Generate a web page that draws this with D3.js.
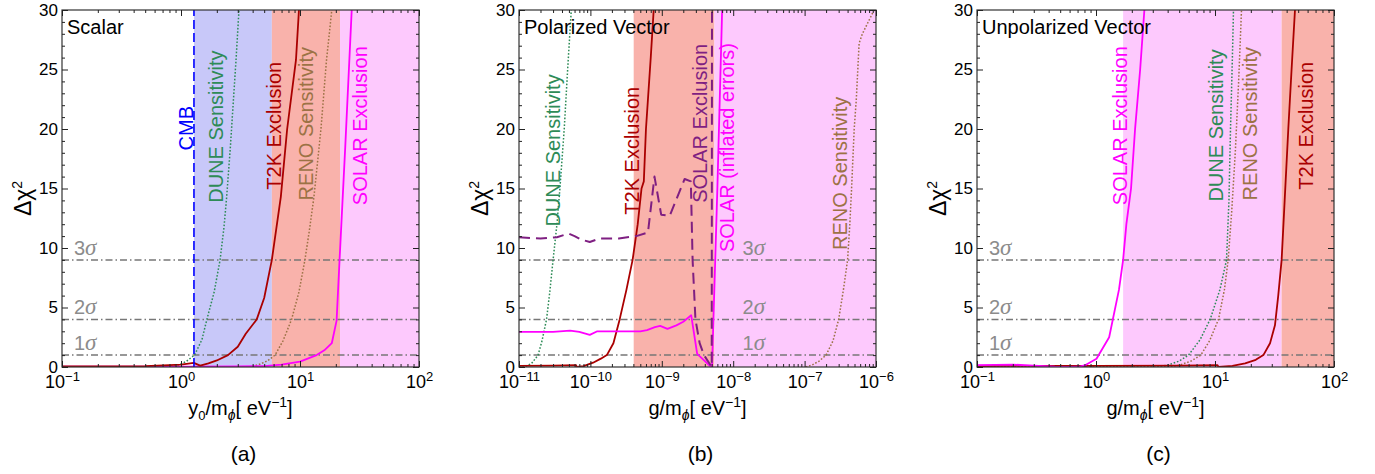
<!DOCTYPE html>
<html>
<head>
<meta charset="utf-8">
<script src="https://cdn.jsdelivr.net/npm/d3@7"></script>
<style>
  body { margin: 0; background: #fff; }
  text { font-family: "Liberation Sans", Arial, Helvetica, sans-serif; }
</style>
</head>
<body>
<svg id="chart"></svg>
<script>
// ---- shared axis data ----
const yTicks = [0, 5, 10, 15, 20, 25, 30];
const sigmaLevels = [1, 4, 9];
const sigmaDigits = ["1", "2", "3"];
const scalarDecades = [-1, 0, 1, 2];
const vectorDecades = [-11, -10, -9, -8, -7, -6];

// ---- (a) Scalar ----
const aCMB = 1.285;
const aBlueBand = [1.285, 5.8];
const aRedBand = [5.8, 21.7];
const aPinkBand = [21.7, 100];
const aDUNE = [[0.1,0],[0.7,0],[0.9,0.08],[1.1,0.45],[1.3,1.0],[1.5,2.3],[1.65,4],[1.9,6.3],[2.13,9],[2.3,11.8],[2.42,14.3],[2.6,18.5],[2.9,25.8],[3.07,30]];
const aT2K = [[0.1,0.05],[0.5,0.08],[1.0,0.2],[1.28,0.35],[1.45,0.12],[1.7,0.3],[2.0,0.55],[2.48,1.0],[3.0,1.7],[3.5,2.8],[4.33,4],[5.0,5.8],[5.8,9],[6.9,14.3],[7.8,20],[9.25,25.8],[9.8,30]];
const aRENO = [[0.1,0],[3.8,0],[4.5,0.2],[5.3,0.5],[6.17,1],[7.2,2.2],[8.5,4],[9.8,6.3],[11,9],[12,11.5],[13.1,14.3],[15,20],[16.7,25.8],[18.5,30]];
const aSOLAR = [[0.1,0.03],[1,0.03],[3,0.04],[5,0.08],[7,0.2],[10,0.45],[13.8,1.0],[16,1.4],[18.5,2.0],[20.3,3.9],[21.5,9],[24,18.5],[27.2,30]];
const aLabels = [["CMB",1.25,18.2],["DUNE Sensitivity",2.25,13.8],["T2K Exclusion",6.92,14.9],["RENO Sensitivity",12.85,14.0],["SOLAR Exclusion",36.6,13.6]];

// ---- (b) Polarized Vector ----
const bRedBand = [4.04e-10, 5.46e-9];
const bPinkBand = [5.46e-9, 1e-6];
const bDUNE = [[1e-11,0],[1.2e-11,0],[1.5e-11,0.3],[1.85e-11,1],[2.1e-11,2.2],[2.43e-11,4],[2.7e-11,6.3],[3.0e-11,9],[3.4e-11,12],[3.74e-11,15],[4.3e-11,20],[4.8e-11,25],[5.4e-11,30]];
const bT2K = [[1e-11,0.1],[3e-11,0.12],[6.3e-11,0.15],[6.4e-11,0],[8e-11,0.08],[1.09e-10,0.36],[1.4e-10,0.7],[1.7e-10,1],[2.1e-10,2],[2.57e-10,4],[3.2e-10,6.5],[3.9e-10,9],[4.6e-10,12],[5.2e-10,15],[5.6e-10,15.6],[6.0e-10,20],[7.0e-10,26],[7.7e-10,30]];
const bSOLAR = [[1e-11,10.9],[2e-11,10.8],[3.4e-11,10.9],[4.3e-11,11.1],[5e-11,11.2],[6e-11,11.0],[7.5e-11,10.7],[9.8e-11,10.5],[1.35e-10,10.8],[2.5e-10,10.8],[4.4e-10,11.0],[6.4e-10,11.3],[7.9e-10,16.0],[9.8e-10,12.8],[1.29e-9,12.7],[2.09e-9,15.8],[2.55e-9,15.6],[2.7e-9,9],[2.96e-9,4],[3.39e-9,2],[3.9e-9,1.0],[4.65e-9,0.3],[5.0e-9,0],[5.05e-9,30]];
const bSOLARinf = [[1e-11,2.95],[3e-11,2.95],[5.2e-11,3.05],[7e-11,2.95],[9.8e-11,2.7],[1.25e-10,3.0],[2.5e-10,3.0],[5e-10,3.0],[6.2e-10,3.1],[8e-10,3.35],[9.5e-10,3.45],[1.2e-9,3.2],[1.6e-9,3.5],[2.0e-9,3.8],[2.58e-9,4.35],[3.13e-9,1.1],[4.9e-9,0],[5.05e-9,0],[6.0e-9,15],[7.0e-9,30]];
const bRENO = [[1.04e-7,0],[1.3e-7,0.2],[1.6e-7,0.5],[2.0e-7,1],[2.5e-7,2.2],[3.0e-7,4],[3.5e-7,6.5],[4.0e-7,9],[4.3e-7,12],[4.55e-7,15],[4.95e-7,20],[5.3e-7,22.5],[5.8e-7,27.2],[6.45e-7,28],[7.5e-7,28.8],[9.4e-7,30]];
const bLabels = [["DUNE Sensitivity",3.74e-11,11.8],["T2K Exclusion",4.74e-10,12.8],["SOLAR Exclusion",4.36e-9,13.8],["SOLAR (inflated errors)",1.04e-8,9.66],["RENO Sensitivity",3.94e-7,9.83]];

// ---- (c) Unpolarized Vector ----
const cPinkBand = [1.69, 36.3];
const cRedBand = [36.3, 100];
const cSOLAR = [[0.1,0.15],[0.2,0.2],[0.3,0.12],[0.45,0.02],[0.6,0.0],[0.72,0.02],[0.81,0.15],[1.01,0.7],[1.29,2.5],[1.56,6.5],[1.69,9],[1.8,12],[1.97,15],[2.13,20],[2.35,25],[2.55,30]];
const cDUNE = [[0.1,0],[3.1,0],[4,0.15],[5,0.5],[6,1],[7.5,2.3],[9.1,4],[11,6.5],[12.5,9],[13.1,14],[13.5,20],[14,26],[14.3,30]];
const cRENO = [[0.1,0],[4,0],[5,0.15],[6.3,0.5],[7.6,1],[9,2.2],[10.7,4],[12,6.5],[12.9,9],[13.8,13],[14.8,18],[15.8,24],[16.7,30]];
const cT2K = [[0.1,0.08],[1,0.1],[5,0.12],[10.5,0.15],[10.7,0],[14,0.1],[17.9,0.3],[22,0.6],[25.5,1],[29,2],[31.9,3.5],[34,6],[36.3,9],[38.5,14],[41.3,20],[44,25],[47,30]];
const cLabels = [["SOLAR Exclusion",1.82,13.6],["DUNE Sensitivity",11.7,13.9],["RENO Sensitivity",22.5,14.0],["T2K Exclusion",66.6,14.9]];

// ---- styles ----
const col = {
  blue: "#c8c8f9", red: "#f9b2ab", pink: "#fdc9fd",
  t2k: "#aa0000", dune: "#2e8b57", reno: "#9c7245",
  solar: "#ff00ff", purple: "#7f1f82", cmb: "#0000ff",
  sigma: "#777777", sigmaText: "#8c8c8c"
};
const dotted = "1.6,1.8";

const panels = [
  { left: 62, name: "Scalar", letter: "(a)", domain: [0.1, 100], decades: scalarDecades, xVar: "y", xSub: "0", sigmaX: 0.126,
    bands: [[aBlueBand, col.blue], [aRedBand, col.red], [aPinkBand, col.pink]],
    curves: [
      { data: aDUNE, color: col.dune, width: 1.5, dash: dotted },
      { data: aRENO, color: col.reno, width: 1.5, dash: dotted },
      { data: aSOLAR, color: col.solar, width: 1.8 },
      { data: aT2K, color: col.t2k, width: 1.8 },
      { data: [[aCMB, 0], [aCMB, 30]], color: col.cmb, width: 1.6, dash: "9,4" }
    ],
    labels: aLabels, labelColors: [col.cmb, col.dune, col.t2k, col.reno, col.solar] },
  { left: 519, name: "Polarized Vector", letter: "(b)", domain: [1e-11, 1e-6], decades: vectorDecades, xVar: "g", xSub: null, sigmaX: 1.35e-8,
    bands: [[bRedBand, col.red], [bPinkBand, col.pink]],
    curves: [
      { data: bDUNE, color: col.dune, width: 1.5, dash: dotted },
      { data: bRENO, color: col.reno, width: 1.5, dash: dotted },
      { data: bT2K, color: col.t2k, width: 1.8 },
      { data: bSOLARinf, color: col.solar, width: 1.8 },
      { data: bSOLAR, color: col.purple, width: 2, dash: "11,6" }
    ],
    labels: bLabels, labelColors: [col.dune, col.t2k, col.purple, col.solar, col.reno] },
  { left: 977, name: "Unpolarized Vector", letter: "(c)", domain: [0.1, 100], decades: scalarDecades, xVar: "g", xSub: null, sigmaX: 0.126,
    bands: [[cPinkBand, col.pink], [cRedBand, col.red]],
    curves: [
      { data: cDUNE, color: col.dune, width: 1.5, dash: dotted },
      { data: cRENO, color: col.reno, width: 1.5, dash: dotted },
      { data: cT2K, color: col.t2k, width: 1.8 },
      { data: cSOLAR, color: col.solar, width: 1.8 }
    ],
    labels: cLabels, labelColors: [col.solar, col.dune, col.reno, col.t2k] }
];

const W = 1375, H = 474, plotTop = 10, size = 357;
const svg = d3.select("#chart").attr("width", W).attr("height", H);
const defs = svg.append("defs");

panels.forEach(function(p, i) {
  const x = d3.scaleLog().domain(p.domain).range([p.left, p.left + size]);
  const y = d3.scaleLinear().domain([0, 30]).range([plotTop + size, plotTop]);
  const g = svg.append("g");

  defs.append("clipPath").attr("id", "clip" + i)
    .append("rect").attr("x", p.left).attr("y", plotTop).attr("width", size).attr("height", size);
  const inner = g.append("g").attr("clip-path", "url(#clip" + i + ")");

  // shaded exclusion bands
  p.bands.forEach(function(b) {
    inner.append("rect")
      .attr("x", x(b[0][0])).attr("width", x(b[0][1]) - x(b[0][0]))
      .attr("y", plotTop).attr("height", size)
      .attr("fill", b[1]);
  });

  // sigma reference lines
  sigmaLevels.forEach(function(s) {
    inner.append("line")
      .attr("x1", p.left).attr("x2", p.left + size)
      .attr("y1", y(s)).attr("y2", y(s))
      .attr("stroke", col.sigma).attr("stroke-width", 1.5)
      .attr("stroke-dasharray", "7,3,1.5,3");
  });

  const line = d3.line().x(d => x(d[0])).y(d => y(d[1]));
  p.curves.forEach(function(c) {
    inner.append("path")
      .attr("d", line(c.data))
      .attr("fill", "none")
      .attr("stroke", c.color)
      .attr("stroke-width", c.width)
      .attr("stroke-dasharray", c.dash || null)
      .attr("stroke-linejoin", "round");
  });

  // sigma labels
  sigmaLevels.forEach(function(s, k) {
    const t = g.append("text")
      .attr("x", x(p.sigmaX)).attr("y", y(s) - 5)
      .attr("fill", col.sigmaText).attr("font-size", 20);
    t.append("tspan").text(sigmaDigits[k]);
    t.append("tspan").attr("font-style", "italic").attr("font-family", "'Liberation Serif', serif").attr("font-size", 23).text("σ");
  });

  // curve annotations (rotated)
  p.labels.forEach(function(l, k) {
    g.append("text")
      .attr("transform", "translate(" + x(l[1]) + "," + y(l[2]) + ") rotate(-90)")
      .attr("fill", p.labelColors[k])
      .attr("font-size", 20)
      .text(l[0]);
  });

  // panel name
  g.append("text").attr("x", p.left + 5).attr("y", plotTop + 24)
    .attr("font-size", 20).attr("fill", "#000").text(p.name);

  // frame
  g.append("rect").attr("x", p.left).attr("y", plotTop).attr("width", size).attr("height", size)
    .attr("fill", "none").attr("stroke", "#333").attr("stroke-width", 1.2);

  // axes (inward ticks on all four sides)
  const minorY = d3.range(0, 31).filter(v => v % 5 !== 0);
  const minorX = [];
  p.decades.forEach(function(e) {
    for (let m = 2; m <= 9; m++) {
      const v = m * Math.pow(10, e);
      if (v < p.domain[1]) minorX.push(v);
    }
  });
  const majorX = p.decades.map(e => Math.pow(10, e));

  function styleAxis(sel) {
    sel.select(".domain").remove();
    sel.selectAll(".tick line").attr("stroke", "#222").attr("stroke-width", 1);
  }

  g.append("g").attr("transform", "translate(" + p.left + ",0)")
    .call(d3.axisLeft(y).tickValues(yTicks).tickSizeInner(-6).tickSizeOuter(0).tickPadding(4))
    .call(styleAxis)
    .call(s => s.selectAll("text").attr("font-size", 17).attr("fill", "#000")
      .attr("font-family", "'Liberation Sans', Arial, sans-serif"));
  g.append("g").attr("transform", "translate(" + p.left + ",0)")
    .call(d3.axisLeft(y).tickValues(minorY).tickSizeInner(-3).tickSizeOuter(0).tickFormat(""))
    .call(styleAxis);
  g.append("g").attr("transform", "translate(" + (p.left + size) + ",0)")
    .call(d3.axisRight(y).tickValues(yTicks).tickSizeInner(-6).tickSizeOuter(0).tickFormat(""))
    .call(styleAxis);
  g.append("g").attr("transform", "translate(" + (p.left + size) + ",0)")
    .call(d3.axisRight(y).tickValues(minorY).tickSizeInner(-3).tickSizeOuter(0).tickFormat(""))
    .call(styleAxis);

  const bottom = g.append("g").attr("transform", "translate(0," + (plotTop + size) + ")")
    .call(d3.axisBottom(x).tickValues(majorX).tickSizeInner(-6).tickSizeOuter(0).tickPadding(8).tickFormat(""))
    .call(styleAxis);
  bottom.selectAll(".tick text").each(function(d) {
    const t = d3.select(this)
      .attr("font-size", 18).attr("fill", "#000")
      .attr("font-family", "'Liberation Sans', Arial, sans-serif");
    const e = Math.round(Math.log10(d));
    t.append("tspan").text("10");
    t.append("tspan").attr("font-size", 13).attr("dy", -7).text(e < 0 ? "\u2212" + (-e) : String(e));
  });
  g.append("g").attr("transform", "translate(0," + (plotTop + size) + ")")
    .call(d3.axisBottom(x).tickValues(minorX).tickSizeInner(-3).tickSizeOuter(0).tickFormat(""))
    .call(styleAxis);
  g.append("g").attr("transform", "translate(0," + plotTop + ")")
    .call(d3.axisTop(x).tickValues(majorX).tickSizeInner(-6).tickSizeOuter(0).tickFormat(""))
    .call(styleAxis);
  g.append("g").attr("transform", "translate(0," + plotTop + ")")
    .call(d3.axisTop(x).tickValues(minorX).tickSizeInner(-3).tickSizeOuter(0).tickFormat(""))
    .call(styleAxis);

  // y title  Δχ²
  const yt = g.append("text")
    .attr("transform", "translate(" + (p.left - 31) + "," + (plotTop + size / 2 + 10) + ") rotate(-90)")
    .attr("text-anchor", "middle").attr("font-size", 23).attr("fill", "#000");
  yt.append("tspan").text("Δχ");
  yt.append("tspan").attr("font-size", 14).attr("dy", -9).text("2");

  // x title
  const xt = g.append("text")
    .attr("x", p.left + size / 2).attr("y", 415)
    .attr("text-anchor", "middle").attr("font-size", 20).attr("fill", "#000");
  xt.append("tspan").text(p.xVar);
  if (p.xSub) {
    xt.append("tspan").attr("font-size", 13).attr("dy", 5).text(p.xSub);
    xt.append("tspan").attr("dy", -5).text("/m");
  } else {
    xt.append("tspan").text("/m");
  }
  xt.append("tspan").attr("font-size", 14).attr("dy", 5).attr("font-style", "italic").text("ϕ");
  xt.append("tspan").attr("dy", -5).text("[ eV");
  xt.append("tspan").attr("font-size", 14).attr("dy", -8).text("\u22121");
  xt.append("tspan").attr("dy", 8).text("]");

  // panel letter
  g.append("text").attr("x", p.left + size / 2 + 3).attr("y", 461)
    .attr("text-anchor", "middle").attr("font-size", 21)
    .attr("font-family", "'Liberation Serif', 'Times New Roman', serif")
    .attr("fill", "#000").text(p.letter);
});
</script>
</body>
</html>
